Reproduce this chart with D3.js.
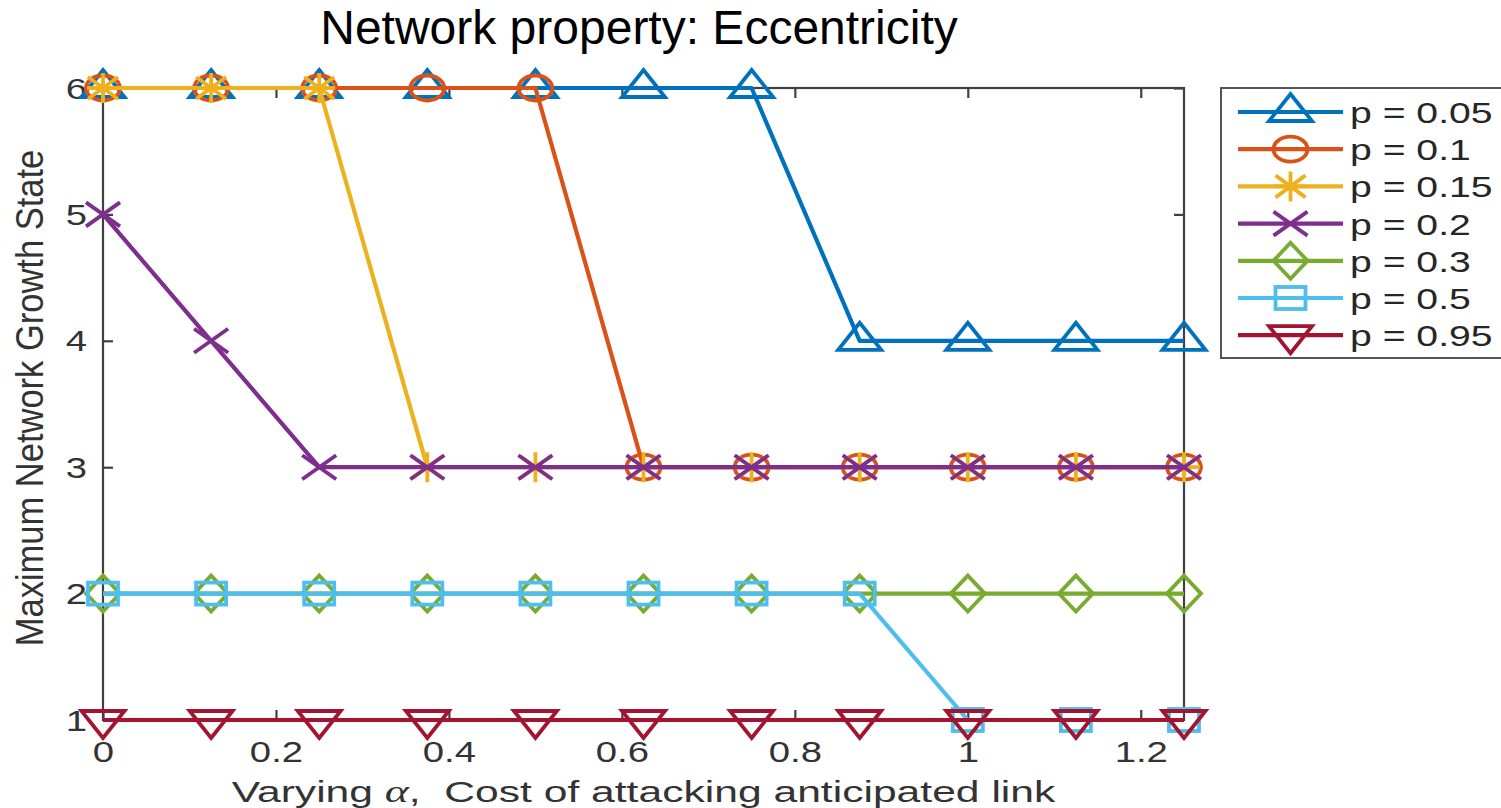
<!DOCTYPE html>
<html>
<head>
<meta charset="utf-8">
<script src="https://cdn.jsdelivr.net/npm/d3@7"></script>
<style>
  body { margin: 0; background: #fff; }
  svg { display: block; }
  text { font-family: "Liberation Sans", Arial, Helvetica, sans-serif; }
</style>
</head>
<body>
<svg id="chart" width="1501" height="808"></svg>
<script>
// ---- data ----------------------------------------------------------------
const alphaValues = [0, 0.125, 0.25, 0.375, 0.5, 0.625, 0.75, 0.875, 1, 1.125, 1.25];
const seriesLabels = ["p = 0.05", "p = 0.1", "p = 0.15", "p = 0.2", "p = 0.3", "p = 0.5", "p = 0.95"];
const stateP005 = [6, 6, 6, 6, 6, 6, 6, 4, 4, 4, 4];
const stateP010 = [6, 6, 6, 6, 6, 3, 3, 3, 3, 3, 3];
const stateP015 = [6, 6, 6, 3, 3, 3, 3, 3, 3, 3, 3];
const stateP020 = [5, 4, 3, 3, 3, 3, 3, 3, 3, 3, 3];
const stateP030 = [2, 2, 2, 2, 2, 2, 2, 2, 2, 2, 2];
const stateP050 = [2, 2, 2, 2, 2, 2, 2, 2, 1, 1, 1];
const stateP095 = [1, 1, 1, 1, 1, 1, 1, 1, 1, 1, 1];
const xTicks = [0, 0.2, 0.4, 0.6, 0.8, 1, 1.2];
const xTickLabels = ["0", "0.2", "0.4", "0.6", "0.8", "1", "1.2"];
const yTicks = [1, 2, 3, 4, 5, 6];
const yTickLabels = ["1", "2", "3", "4", "5", "6"];

const seriesValues = [stateP005, stateP010, stateP015, stateP020, stateP030, stateP050, stateP095];
const seriesColors = ["#0072BD", "#D95319", "#EDB120", "#7E2F8E", "#77AC30", "#4DBEEE", "#A2142F"];
const seriesMarkers = ["triangleUp", "circle", "asterisk", "cross", "diamond", "square", "triangleDown"];

// ---- layout --------------------------------------------------------------
const svg = d3.select("#chart");
const plot = { left: 103, right: 1184, top: 88, bottom: 720 };
const sx = 1.32;          // horizontal glyph stretch of the figure text
const axisColor = "#404040";
const textColor = "#333333";
const lineWidth = 4.2;
const markerWidth = 3.8;

const x = d3.scaleLinear().domain([0, 1.25]).range([plot.left, plot.right]);
const y = d3.scaleLinear().domain([1, 6]).range([plot.bottom, plot.top]);

// ---- axes box and inward ticks -------------------------------------------
svg.append("rect")
  .attr("x", plot.left).attr("y", plot.top)
  .attr("width", plot.right - plot.left).attr("height", plot.bottom - plot.top)
  .attr("fill", "none").attr("stroke", axisColor).attr("stroke-width", 2.2);

function styleAxis(g) {
  g.select(".domain").remove();
  g.selectAll(".tick line").attr("stroke", axisColor).attr("stroke-width", 2.2);
}

const gBottom = svg.append("g").attr("transform", `translate(0,${plot.bottom})`)
  .call(d3.axisBottom(x).tickValues(xTicks).tickSizeInner(-10).tickSizeOuter(0)
    .tickPadding(0).tickFormat((d, i) => xTickLabels[i]))
  .call(styleAxis);
gBottom.selectAll(".tick text")
  .attr("y", 0).attr("dy", null)
  .attr("transform", `translate(0,42) scale(${sx},1)`)
  .attr("font-size", 29).attr("fill", textColor).attr("font-family", null);

svg.append("g").attr("transform", `translate(0,${plot.top})`)
  .call(d3.axisTop(x).tickValues(xTicks).tickSizeInner(-10).tickSizeOuter(0).tickFormat(""))
  .call(styleAxis);

const gLeft = svg.append("g").attr("transform", `translate(${plot.left},0)`)
  .call(d3.axisLeft(y).tickValues(yTicks).tickSizeInner(-10).tickSizeOuter(0)
    .tickPadding(0).tickFormat((d, i) => yTickLabels[i]))
  .call(styleAxis);
gLeft.selectAll(".tick text")
  .attr("x", 0).attr("dy", "0.35em")
  .attr("transform", `translate(-16,0) scale(${sx},1)`)
  .attr("font-size", 29).attr("fill", textColor).attr("font-family", null);

svg.append("g").attr("transform", `translate(${plot.right},0)`)
  .call(d3.axisRight(y).tickValues(yTicks).tickSizeInner(-10).tickSizeOuter(0).tickFormat(""))
  .call(styleAxis);

// ---- titles --------------------------------------------------------------
svg.append("text")
  .attr("x", 639).attr("y", 44)
  .attr("text-anchor", "middle")
  .attr("font-size", 48).attr("fill", "#000")
  .text("Network property: Eccentricity");

const xLabel = svg.append("text")
  .attr("transform", `translate(${(plot.left + plot.right) / 2},802) scale(1.47,1)`)
  .attr("text-anchor", "middle")
  .attr("font-size", 29).attr("fill", textColor)
  .attr("xml:space", "preserve");
xLabel.append("tspan").text("Varying ");
xLabel.append("tspan").attr("font-family", "'Liberation Serif', 'DejaVu Serif', serif")
  .attr("font-style", "italic").attr("font-size", 31).text("α");
xLabel.append("tspan").text(",  Cost of attacking anticipated link");

svg.append("text")
  .attr("transform", "translate(43,398) rotate(-90) scale(1.19,1.35)")
  .attr("text-anchor", "middle")
  .attr("font-size", 29).attr("fill", textColor)
  .text("Maximum Network Growth State");

// ---- markers -------------------------------------------------------------
function drawMarker(g, type, cx, cy, color) {
  const s = g.append("g").attr("transform", `translate(${cx},${cy})`)
    .attr("fill", "none").attr("stroke", color).attr("stroke-width", markerWidth)
    .attr("stroke-linejoin", "miter");
  switch (type) {
    case "triangleUp":
      s.append("path").attr("d", "M0,-18 L21.5,9 L-21.5,9 Z");
      break;
    case "triangleDown":
      s.append("path").attr("d", "M0,18 L21.5,-9 L-21.5,-9 Z");
      break;
    case "circle":
      s.append("ellipse").attr("rx", 17).attr("ry", 12.5);
      break;
    case "asterisk":
      s.append("path").attr("d", "M-16,0 L16,0 M0,-15 L0,15 M-15,-11 L15,11 M-15,11 L15,-11");
      break;
    case "cross":
      s.append("path").attr("d", "M-17,-12 L17,12 M-17,12 L17,-12");
      break;
    case "diamond":
      s.append("path").attr("d", "M0,-18 L17,0 L0,18 L-17,0 Z");
      break;
    case "square":
      s.append("rect").attr("x", -15).attr("y", -11).attr("width", 30).attr("height", 22);
      break;
  }
}

// ---- series --------------------------------------------------------------
const line = d3.line().x((d, i) => x(alphaValues[i])).y(d => y(d));

seriesValues.forEach((vals, k) => {
  const g = svg.append("g");
  g.append("path").datum(vals)
    .attr("d", line)
    .attr("fill", "none").attr("stroke", seriesColors[k]).attr("stroke-width", lineWidth)
    .attr("stroke-linejoin", "round");
  vals.forEach((v, i) => drawMarker(g, seriesMarkers[k], x(alphaValues[i]), y(v), seriesColors[k]));
});

// ---- legend --------------------------------------------------------------
const legend = svg.append("g");
legend.append("rect")
  .attr("x", 1221).attr("y", 88).attr("width", 300).attr("height", 270)
  .attr("fill", "#fff").attr("stroke", "#555").attr("stroke-width", 2);

seriesLabels.forEach((lab, k) => {
  const cy = 112 + k * 37.2;
  const row = legend.append("g");
  row.append("line").attr("x1", 1238).attr("x2", 1343).attr("y1", cy).attr("y2", cy)
    .attr("stroke", seriesColors[k]).attr("stroke-width", lineWidth);
  drawMarker(row, seriesMarkers[k], 1290.5, cy, seriesColors[k]);
  row.append("text")
    .attr("transform", `translate(1350,${cy + 11}) scale(1.35,1)`)
    .attr("font-size", 29).attr("fill", "#262626")
    .text(lab);
});
</script>
</body>
</html>
